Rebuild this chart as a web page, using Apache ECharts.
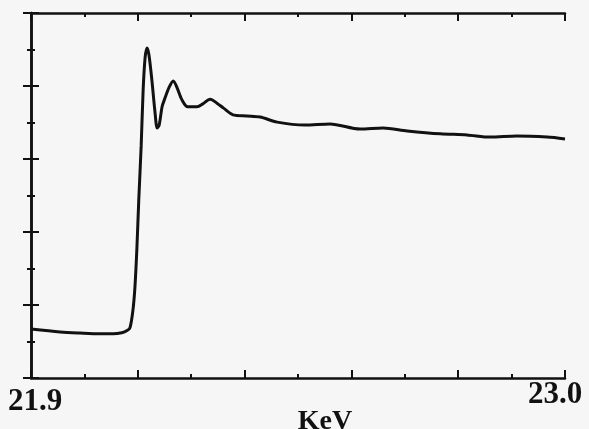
<!DOCTYPE html>
<html>
<head>
<meta charset="utf-8">
<script src="https://cdn.jsdelivr.net/npm/echarts@6/dist/echarts.min.js"></script>
<style>
  html, body { margin: 0; padding: 0; background: #f6f6f6; }
  #chart { width: 589px; height: 429px; }
</style>
</head>
<body>
<div id="chart"></div>
<script>
// energy in keV and absorption (arbitrary units, 0-10 box)
const energy = [21.900, 21.960, 22.001, 22.042, 22.069, 22.087, 22.098, 22.104, 22.110, 22.114,
  22.118, 22.122, 22.127, 22.131, 22.135, 22.139, 22.143, 22.149, 22.155, 22.160,
  22.164, 22.170, 22.176, 22.184, 22.193, 22.201, 22.211, 22.223, 22.242, 22.254,
  22.269, 22.283, 22.296, 22.316, 22.345, 22.372, 22.407, 22.464, 22.516, 22.578,
  22.625, 22.675, 22.743, 22.798, 22.846, 22.901, 22.963, 23.000]
const absorption = [1.34, 1.26, 1.23, 1.21, 1.21, 1.24, 1.30, 1.38, 1.86, 2.47,
  3.51, 4.88, 6.38, 7.89, 8.77, 9.04, 8.85, 8.16, 7.34, 6.85,
  6.93, 7.43, 7.67, 7.95, 8.14, 7.95, 7.62, 7.43, 7.43, 7.51,
  7.64, 7.53, 7.40, 7.21, 7.18, 7.15, 7.01, 6.93, 6.96, 6.82,
  6.85, 6.77, 6.69, 6.66, 6.60, 6.63, 6.60, 6.55]
const xLabels = [21.9, 23.0]
const xName = 'KeV'

const chart = echarts.init(document.getElementById('chart'))
const ink = '#111'
const font = 'Liberation Serif'

// helper axis for the tick marks (10 divisions, long every 2)
const tickAxis = (position, extra) => Object.assign({
  type: 'value',
  position: position,
  min: 0,
  max: 10,
  interval: 2,
  axisLine: { show: false },
  axisTick: { show: true, inside: true, length: 8, lineStyle: { color: ink, width: 2 } },
  minorTick: { show: true, splitNumber: 2, length: 4, lineStyle: { color: ink, width: 2 } },
  axisLabel: { show: false },
  splitLine: { show: false }
}, extra || {})

chart.setOption({
  backgroundColor: '#f6f6f6',
  animation: false,
  grid: { left: 31, right: 24, top: 13, bottom: 51, outerBoundsMode: 'none', containLabel: false },
  xAxis: [
    {
      type: 'value',
      position: 'bottom',
      min: 21.9,
      max: 23.0,
      name: xName,
      nameLocation: 'middle',
      nameGap: 30,
      nameMoveOverlap: false,
      nameTextStyle: {
        fontFamily: font, fontWeight: 'bold', fontSize: 28, color: ink,
        padding: [0, 0, 0, 54]
      },
      axisLine: { show: true, lineStyle: { color: ink, width: 2.5 } },
      axisTick: { show: false },
      splitLine: { show: false },
      axisLabel: {
        customValues: xLabels,
        margin: 1,
        hideOverlap: false,
        formatter: (v) => v === xLabels[0] ? '{a|' + v.toFixed(1) + '}' : '{b|' + v.toFixed(1) + '}',
        rich: {
          a: { fontFamily: font, fontWeight: 'bold', fontSize: 31, color: ink, padding: [7, 0, 0, 8] },
          b: { fontFamily: font, fontWeight: 'bold', fontSize: 31, color: ink, padding: [0, 20, 0, 0] }
        }
      }
    },
    tickAxis('bottom'),
    tickAxis('top', { axisLine: { show: true, lineStyle: { color: ink, width: 2.5 } } })
  ],
  yAxis: [
    tickAxis('left', { axisLine: { show: true, lineStyle: { color: ink, width: 2.5 } } }),
    tickAxis('right', { axisLine: { show: true, lineStyle: { color: ink, width: 2.5 } } })
  ],
  series: [
    {
      type: 'line',
      xAxisIndex: 0,
      yAxisIndex: 0,
      data: energy.map((e, i) => [e, absorption[i]]),
      showSymbol: false,
      smooth: 0.3,
      lineStyle: { color: ink, width: 3 }
    }
  ]
})
</script>
</body>
</html>
